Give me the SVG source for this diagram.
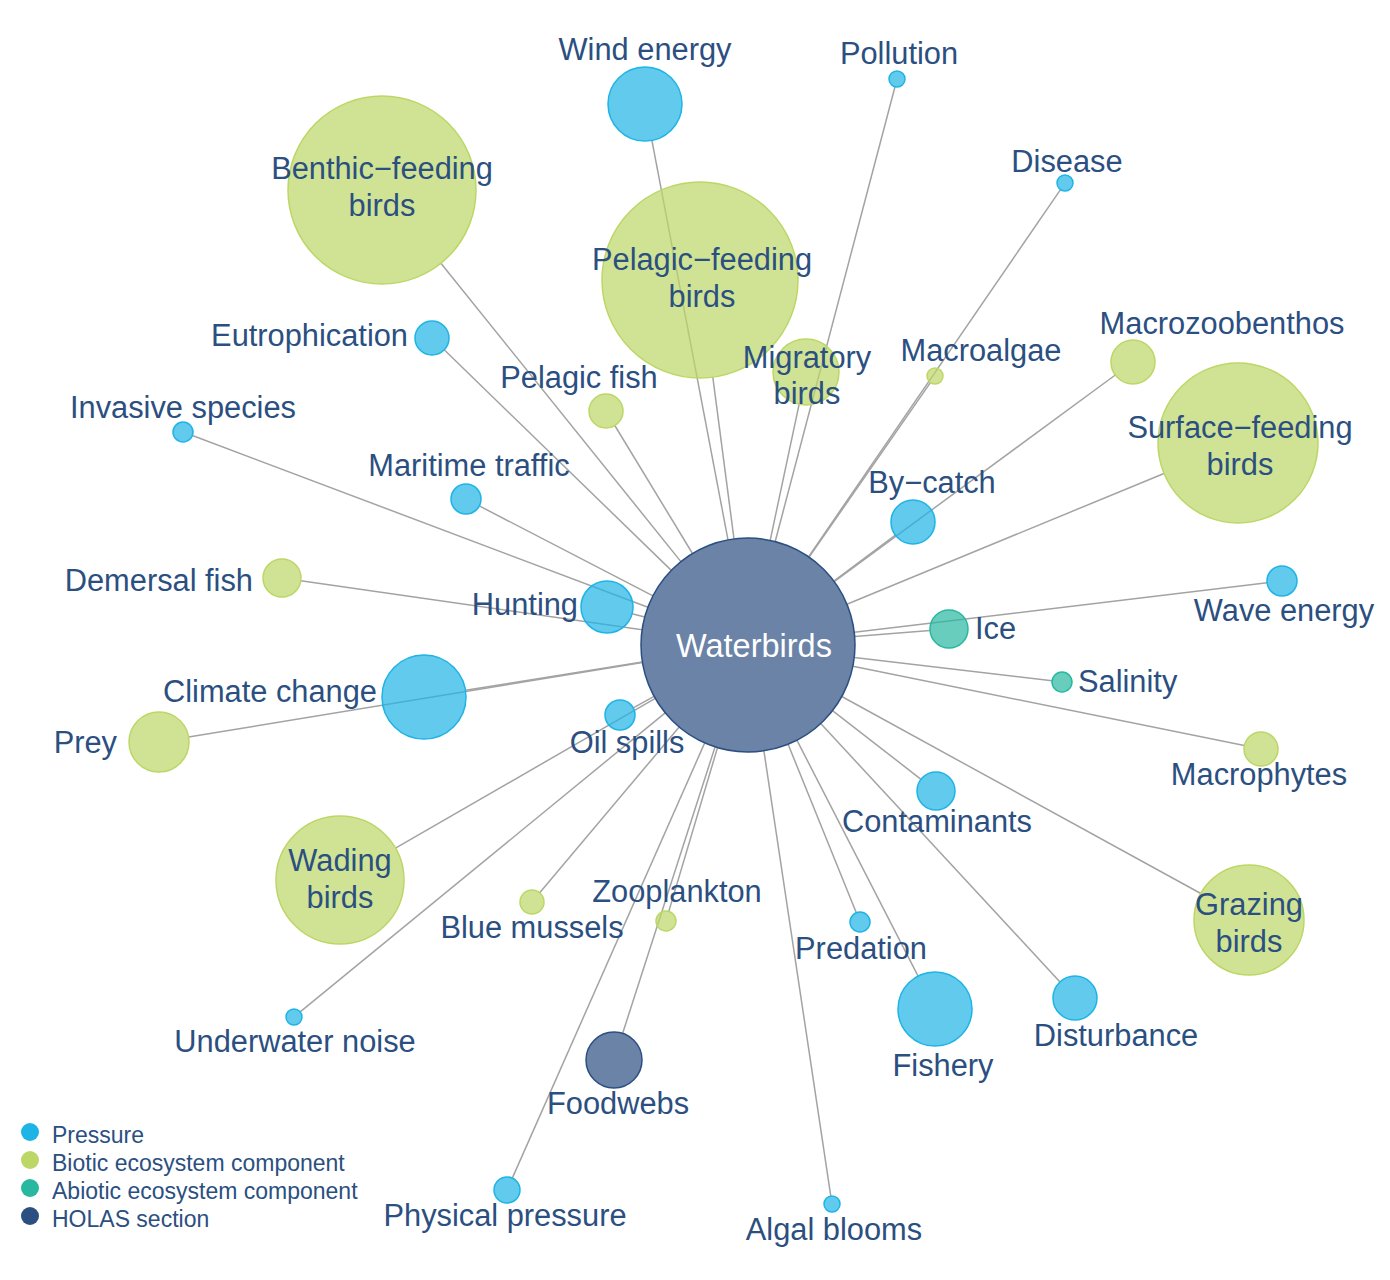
<svg xmlns="http://www.w3.org/2000/svg" width="1390" height="1280" viewBox="0 0 1390 1280">
<style>
.e{stroke:#a3a3a3;stroke-width:1.5;fill:none}
.p{fill:#1eb4e6;fill-opacity:0.7;stroke:#1eb4e6;stroke-width:1.5}
.b{fill:#bcd766;fill-opacity:0.7;stroke:#bcd766;stroke-width:1.5}
.a{fill:#28b8a0;fill-opacity:0.7;stroke:#28b8a0;stroke-width:1.5}
.h{fill:#2b4f80;fill-opacity:0.7;stroke:#2b4f80;stroke-width:1.5}
text{font-family:"Liberation Sans",Arial,sans-serif;font-size:30.8px;fill:#2b4f80}
.c{text-anchor:middle}
.r{text-anchor:end}
.lg{font-size:23px}
.lp{fill:#1eb4e6}.lb{fill:#bcd766}.la{fill:#28b8a0}.lh{fill:#2b4f80}
</style>
<rect width="1390" height="1280" fill="#ffffff"/>
<g id="connectors">
<line class="e" x1="728.0" y1="539.9" x2="651.9" y2="140.3"/>
<line class="e" x1="775.2" y1="541.5" x2="895.0" y2="86.7"/>
<line class="e" x1="808.5" y1="556.8" x2="1060.5" y2="189.6"/>
<line class="e" x1="671.3" y1="570.4" x2="444.2" y2="349.8"/>
<line class="e" x1="647.9" y1="607.2" x2="192.4" y2="435.5"/>
<line class="e" x1="653.0" y1="595.8" x2="479.3" y2="505.9"/>
<line class="e" x1="644.7" y1="617.1" x2="632.1" y2="613.8"/>
<line class="e" x1="642.3" y1="662.0" x2="465.5" y2="690.3"/>
<line class="e" x1="654.1" y1="696.3" x2="633.2" y2="707.8"/>
<line class="e" x1="833.8" y1="581.0" x2="895.4" y2="535.1"/>
<line class="e" x1="854.2" y1="632.3" x2="1267.1" y2="582.8"/>
<line class="e" x1="832.5" y1="710.6" x2="921.0" y2="779.3"/>
<line class="e" x1="788.1" y1="744.2" x2="856.3" y2="912.7"/>
<line class="e" x1="796.9" y1="740.2" x2="918.1" y2="976.1"/>
<line class="e" x1="820.7" y1="723.5" x2="1060.0" y2="981.9"/>
<line class="e" x1="665.2" y1="712.8" x2="300.2" y2="1011.9"/>
<line class="e" x1="704.7" y1="742.9" x2="512.3" y2="1178.1"/>
<line class="e" x1="763.9" y1="750.8" x2="830.8" y2="1196.1"/>
<line class="e" x1="680.9" y1="561.6" x2="440.9" y2="263.2"/>
<line class="e" x1="734.0" y1="538.9" x2="712.8" y2="377.2"/>
<line class="e" x1="770.2" y1="540.3" x2="799.1" y2="404.3"/>
<line class="e" x1="809.1" y1="557.1" x2="930.4" y2="382.6"/>
<line class="e" x1="834.2" y1="581.6" x2="1115.3" y2="375.0"/>
<line class="e" x1="846.9" y1="604.2" x2="1164.0" y2="473.5"/>
<line class="e" x1="692.5" y1="553.5" x2="614.8" y2="425.5"/>
<line class="e" x1="642.1" y1="629.8" x2="300.8" y2="580.7"/>
<line class="e" x1="642.4" y1="662.4" x2="188.6" y2="737.1"/>
<line class="e" x1="655.3" y1="698.4" x2="395.5" y2="848.1"/>
<line class="e" x1="679.2" y1="726.9" x2="539.7" y2="892.8"/>
<line class="e" x1="717.5" y1="747.6" x2="668.8" y2="911.4"/>
<line class="e" x1="852.9" y1="666.3" x2="1244.3" y2="745.6"/>
<line class="e" x1="841.8" y1="696.5" x2="1200.8" y2="893.5"/>
<line class="e" x1="854.7" y1="636.5" x2="930.1" y2="630.5"/>
<line class="e" x1="854.3" y1="657.5" x2="1052.1" y2="680.8"/>
<line class="e" x1="715.1" y1="746.8" x2="622.6" y2="1033.4"/>
</g>
<g id="n-benthic"><circle class="b" cx="382" cy="190" r="94"/><text class="c" x="382" y="179">Benthic−feeding</text><text class="c" x="382" y="216">birds</text></g>
<g id="n-pelagicbirds"><circle class="b" cx="700" cy="280" r="98"/><text class="c" x="702" y="270">Pelagic−feeding</text><text class="c" x="702" y="307">birds</text></g>
<g id="n-migratory"><circle class="b" cx="806" cy="372" r="33"/><text class="c" x="807" y="368">Migratory</text><text class="c" x="807" y="404">birds</text></g>
<g id="n-macroalgae"><circle class="b" cx="935" cy="376" r="8"/><text class="c" x="981" y="361">Macroalgae</text></g>
<g id="n-macrozoobenthos"><circle class="b" cx="1133" cy="362" r="22"/><text class="c" x="1222" y="334">Macrozoobenthos</text></g>
<g id="n-surface"><circle class="b" cx="1238" cy="443" r="80"/><text class="c" x="1240" y="438">Surface−feeding</text><text class="c" x="1240" y="475">birds</text></g>
<g id="n-pelagicfish"><circle class="b" cx="606" cy="411" r="17"/><text class="c" x="579" y="388">Pelagic fish</text></g>
<g id="n-demersal"><circle class="b" cx="282" cy="578" r="19"/><text class="r" x="253" y="591">Demersal fish</text></g>
<g id="n-prey"><circle class="b" cx="159" cy="742" r="30"/><text class="r" x="117" y="753">Prey</text></g>
<g id="n-wading"><circle class="b" cx="340" cy="880" r="64"/><text class="c" x="340" y="871">Wading</text><text class="c" x="340" y="908">birds</text></g>
<g id="n-bluemussels"><circle class="b" cx="532" cy="902" r="12"/><text class="c" x="532" y="938">Blue mussels</text></g>
<g id="n-zooplankton"><circle class="b" cx="666" cy="921" r="10"/><text class="c" x="677" y="902">Zooplankton</text></g>
<g id="n-macrophytes"><circle class="b" cx="1261" cy="749" r="17"/><text class="c" x="1259" y="785">Macrophytes</text></g>
<g id="n-grazing"><circle class="b" cx="1249" cy="920" r="55"/><text class="c" x="1249" y="915">Grazing</text><text class="c" x="1249" y="952">birds</text></g>
<g id="n-ice"><circle class="a" cx="949" cy="629" r="19"/><text x="975" y="639">Ice</text></g>
<g id="n-salinity"><circle class="a" cx="1062" cy="682" r="10"/><text x="1078" y="692">Salinity</text></g>
<g id="n-foodwebs"><circle class="h" cx="614" cy="1060" r="28"/><text class="c" x="618" y="1114">Foodwebs</text></g>
<g id="n-wind"><circle class="p" cx="645" cy="104" r="37"/><text class="c" x="645" y="60">Wind energy</text></g>
<g id="n-pollution"><circle class="p" cx="897" cy="79" r="8"/><text class="c" x="899" y="64">Pollution</text></g>
<g id="n-disease"><circle class="p" cx="1065" cy="183" r="8"/><text class="c" x="1067" y="172">Disease</text></g>
<g id="n-eutrophication"><circle class="p" cx="432" cy="338" r="17"/><text class="r" x="408" y="346">Eutrophication</text></g>
<g id="n-invasive"><circle class="p" cx="183" cy="432" r="10"/><text class="c" x="183" y="418">Invasive species</text></g>
<g id="n-maritime"><circle class="p" cx="466" cy="499" r="15"/><text class="c" x="469" y="476">Maritime traffic</text></g>
<g id="n-hunting"><circle class="p" cx="607" cy="607" r="26"/><text class="r" x="578" y="615">Hunting</text></g>
<g id="n-climate"><circle class="p" cx="424" cy="697" r="42"/><text class="r" x="377" y="702">Climate change</text></g>
<g id="n-oilspills"><circle class="p" cx="620" cy="715" r="15"/><text class="c" x="627" y="753">Oil spills</text></g>
<g id="n-bycatch"><circle class="p" cx="913" cy="522" r="22"/><text class="c" x="932" y="493">By−catch</text></g>
<g id="n-wave"><circle class="p" cx="1282" cy="581" r="15"/><text class="c" x="1284" y="621">Wave energy</text></g>
<g id="n-contaminants"><circle class="p" cx="936" cy="791" r="19"/><text class="c" x="937" y="832">Contaminants</text></g>
<g id="n-predation"><circle class="p" cx="860" cy="922" r="10"/><text class="c" x="861" y="959">Predation</text></g>
<g id="n-fishery"><circle class="p" cx="935" cy="1009" r="37"/><text class="c" x="943" y="1076">Fishery</text></g>
<g id="n-disturbance"><circle class="p" cx="1075" cy="998" r="22"/><text class="c" x="1116" y="1046">Disturbance</text></g>
<g id="n-underwater"><circle class="p" cx="294" cy="1017" r="8"/><text class="c" x="295" y="1052">Underwater noise</text></g>
<g id="n-physical"><circle class="p" cx="507" cy="1190" r="13"/><text class="c" x="505" y="1226">Physical pressure</text></g>
<g id="n-algal"><circle class="p" cx="832" cy="1204" r="8"/><text class="c" x="834" y="1240">Algal blooms</text></g>
<g id="n-waterbirds"><circle class="h" cx="748" cy="645" r="107"/><text class="c" x="754" y="657" style="fill:#ffffff;font-size:32.5px">Waterbirds</text></g>
<g id="legend">
<circle class="lp" cx="30" cy="1132" r="9"/><text class="lg" x="52" y="1143">Pressure</text>
<circle class="lb" cx="30" cy="1160" r="9"/><text class="lg" x="52" y="1171">Biotic ecosystem component</text>
<circle class="la" cx="30" cy="1188" r="9"/><text class="lg" x="52" y="1199">Abiotic ecosystem component</text>
<circle class="lh" cx="30" cy="1216" r="9"/><text class="lg" x="52" y="1227">HOLAS section</text>
</g>
</svg>
